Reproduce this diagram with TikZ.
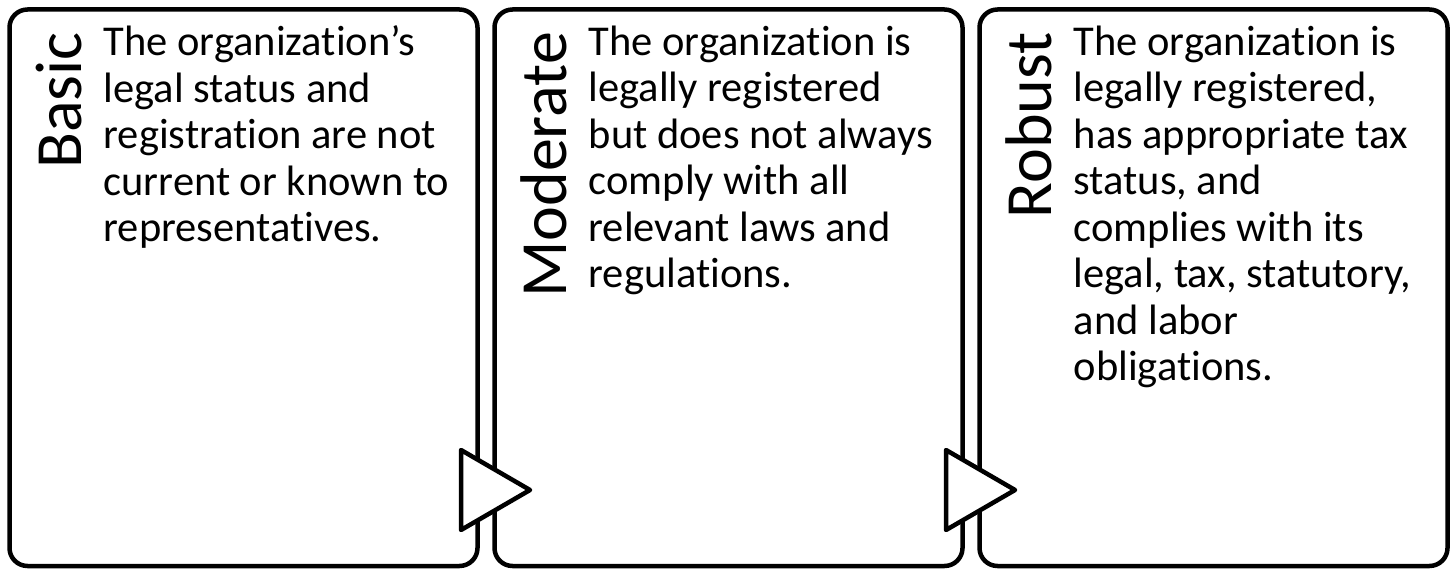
\documentclass[tikz,border=0pt]{standalone}
\usepackage{fontspec}
\setmainfont{Carlito}[Ligatures=NoCommon]
\usetikzlibrary{positioning,calc}

\begin{document}
\begin{tikzpicture}[x=1pt, y=-1pt,
   stage/.style={draw, line width=4.5pt, rounded corners=18pt, outer sep=0pt,
                 minimum width=468pt, minimum height=556.5pt, inner sep=0pt},
   tag/.style={rotate=90, anchor=south east, inner sep=0pt,
               font=\fontsize{66}{72}\selectfont},
   blurb/.style={anchor=north west, inner sep=0pt, align=left,
                 font=\fontsize{42.5}{46.5}\selectfont},
   flowtri/.style={draw, fill=white, line width=4.5pt, line join=round}]

\useasboundingbox (0,0) rectangle (1455,572);

% the three stages
\node[stage] (basic) at (243.5,287.75) {};
\node[stage, right=17pt of basic] (moderate) {};
\node[stage, right=17pt of moderate] (robust) {};

\node[tag] (basic-tag) at ($(basic.north west)+(73,22.5)$) {Basic};
\node[tag] (moderate-tag) at ($(moderate.north west)+(73,22.5)$) {Moderate};
\node[tag] (robust-tag) at ($(robust.north west)+(73,22.5)$) {Robust};

\node[blurb] (basic-text) at ($(basic.north west)+(94,16)$)
   {The organization’s\\legal status and\\registration are not\\current or known to\\representatives.};
\node[blurb] (moderate-text) at ($(moderate.north west)+(94,16)$)
   {The organization is\\legally registered\\but does not always\\comply with all\\relevant laws and\\regulations.};
\node[blurb] (robust-text) at ($(robust.north west)+(94,16)$)
   {The organization is\\legally registered,\\has appropriate tax\\status, and\\complies with its\\legal, tax, statutory,\\and labor\\obligations.};

% arrows between the stages
\foreach \a/\b in {basic/moderate, moderate/robust}{
   \coordinate (\a-turn) at ($(\a.south east)!0.5!(\b.south west)+(0,-76)$);
   \draw[flowtri] ($(\a-turn)+(-25,-40)$) -- ($(\a-turn)+(44,0)$)
      -- ($(\a-turn)+(-25,40)$) -- cycle;
}

\end{tikzpicture}
\end{document}
